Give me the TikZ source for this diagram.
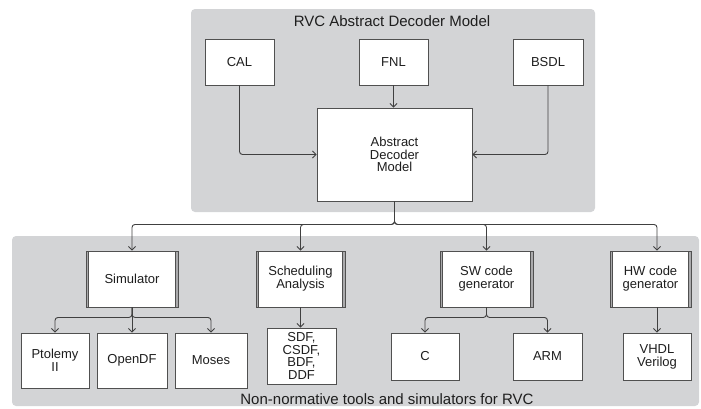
\documentclass[tikz,border=0pt]{standalone}
\usepackage{fontspec}
\setmainfont{Liberation Sans}
\usetikzlibrary{arrows.meta}
\definecolor{panelgray}{RGB}{211,212,214}
\definecolor{linecol}{RGB}{64,64,64}
\definecolor{boxline}{RGB}{80,80,80}
\definecolor{stripgray}{RGB}{170,170,172}
\definecolor{txtcol}{RGB}{30,30,30}
\tikzset{
  panel/.style={fill=panelgray, draw=none, rounded corners=4pt},
  box/.style={draw=boxline, fill=white, line width=0.9pt, align=center, inner sep=0pt,
    text=txtcol, font=\fontsize{13}{12.8}\selectfont},
  procbox/.style={box, path picture={
     \draw[fill=stripgray, draw=boxline, line width=0.6pt] (path picture bounding box.north west) rectangle ([xshift=2.6pt]path picture bounding box.south west);
     \draw[fill=stripgray, draw=boxline, line width=0.6pt] (path picture bounding box.north east) rectangle ([xshift=-2.6pt]path picture bounding box.south east);
  }},
  conn/.style={draw=linecol, line width=0.9pt, rounded corners=3pt, -{Straight Barb[length=3.5pt,width=7pt]}},
  paneltitle/.style={text=txtcol, font=\fontsize{15}{18}\selectfont, inner sep=0pt}
}
\begin{document}
\begin{tikzpicture}[x=1pt, y=-1pt]
\useasboundingbox (0,0) rectangle (701,408);
% panels
\fill[panel] (191,9) rectangle (595,212);
\fill[panel] (12,236) rectangle (699,406);
\node[paneltitle] (ttop) at (392,21) {RVC Abstract Decoder Model};
\node[paneltitle] (tbot) at (387,399) {Non-normative tools and simulators for RVC};
% top boxes
\node[box, minimum width=69pt, minimum height=46pt] (cal) at (239.5,62) {CAL};
\node[box, minimum width=69pt, minimum height=46pt] (fnl) at (393.5,62) {FNL};
\node[box, minimum width=70pt, minimum height=46pt] (bsdl) at (548,62) {BSDL};
\node[box, minimum width=155pt, minimum height=93pt] (adm) at (394.5,154.5) {Abstract\\Decoder\\Model};
% tools
\node[procbox, minimum width=92pt, minimum height=56pt] (sim) at (132,279) {Simulator};
\node[procbox, minimum width=89pt, minimum height=56pt] (sch) at (300.5,279) {Scheduling\\Analysis};
\node[procbox, minimum width=93pt, minimum height=56pt] (sw) at (486.5,279) {SW code\\generator};
\node[procbox, minimum width=81pt, minimum height=56pt] (hw) at (650.5,279) {HW code\\generator};
% leaves
\node[box, minimum width=68pt, minimum height=55pt] (pto) at (55,360.5) {Ptolemy\\II};
\node[box, minimum width=70pt, minimum height=55pt] (odf) at (132,360.5) {OpenDF};
\node[box, minimum width=72pt, minimum height=55pt] (mos) at (211,360.5) {Moses};
\node[box, minimum width=69pt, minimum height=56pt, font=\fontsize{13}{12.5}\selectfont] (sdf) at (301.5,356) {SDF,\\CSDF,\\BDF,\\DDF};
\node[box, minimum width=68pt, minimum height=47pt] (c) at (425,356.5) {C};
\node[box, minimum width=69pt, minimum height=47pt] (arm) at (547.5,356.5) {ARM};
\node[box, minimum width=68pt, minimum height=47pt] (vhdl) at (657,356.5) {VHDL\\Verilog};
% top connectors
\draw[conn] (cal.south) |- (adm.west);
\draw[conn] (fnl.south) -- (fnl.south |- adm.north);
\draw[conn] (bsdl.south) |- (adm.east);
% bus from ADM
\draw[conn] (adm.south) -- ++(0,23) -| (sim.north);
\draw[conn] (adm.south) -- ++(0,23) -| (sch.north);
\draw[conn] (adm.south) -- ++(0,23) -| (sw.north);
\draw[conn] (adm.south) -- ++(0,23) -| (vhdl.north |- hw.north);
% simulator bus
\draw[conn] (sim.south) -- ++(0,10) -| (pto.north);
\draw[conn] (sim.south) -- (odf.north);
\draw[conn] (sim.south) -- ++(0,10) -| (mos.north);
% scheduling
\draw[conn] (sch.south) -- (sch.south |- sdf.north);
% sw bus
\draw[conn] (sw.south) -- ++(0,10) -| (c.north);
\draw[conn] (sw.south) -- ++(0,10) -| (arm.north);
% hw
\draw[conn] (vhdl.north |- hw.south) -- (vhdl.north);
\end{tikzpicture}
\end{document}
